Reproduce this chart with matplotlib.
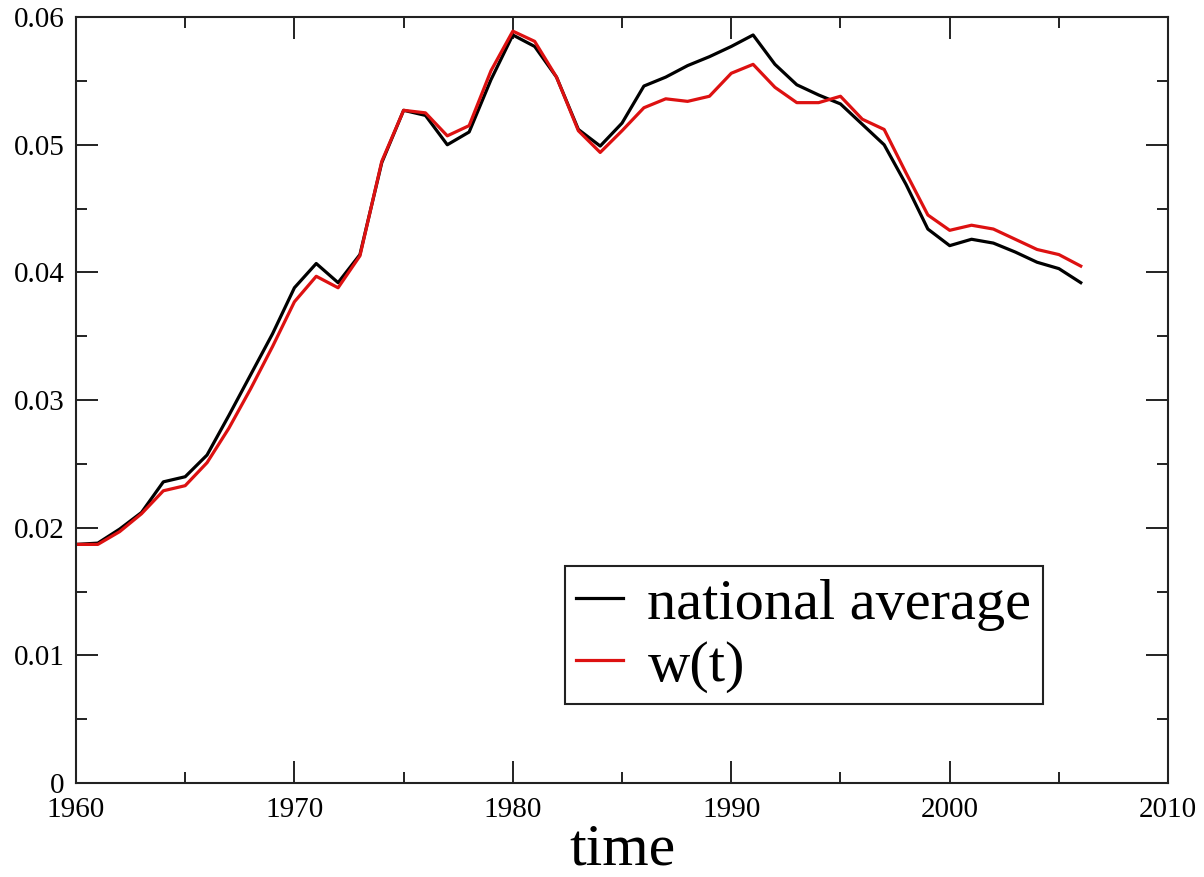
import numpy as np
import matplotlib
matplotlib.use('Agg')
import matplotlib.pyplot as plt
import matplotlib.transforms as mtransforms
from matplotlib.ticker import MultipleLocator, FuncFormatter

# yearly values, 1960-2006
years = list(range(1960, 2007))

national_average = [
    0.0187, 0.0188, 0.0199, 0.0212, 0.0236, 0.0240, 0.0257, 0.0288, 0.0320, 0.0352,
    0.0388, 0.0407, 0.0392, 0.0414, 0.0486, 0.0527, 0.0523, 0.0500, 0.0510, 0.0551,
    0.0586, 0.0577, 0.0553, 0.0512, 0.0499, 0.0517, 0.0546, 0.0553, 0.0562, 0.0569,
    0.0577, 0.0586, 0.0563, 0.0547, 0.0539, 0.0532, 0.0516, 0.0500, 0.0469, 0.0434,
    0.0421, 0.0426, 0.0423, 0.0416, 0.0408, 0.0403, 0.0392,
]

w_t = [
    0.0187, 0.0187, 0.0197, 0.0211, 0.0229, 0.0233, 0.0251, 0.0278, 0.0309, 0.0342,
    0.0377, 0.0397, 0.0388, 0.0413, 0.0487, 0.0527, 0.0525, 0.0507, 0.0515, 0.0558,
    0.0589, 0.0581, 0.0553, 0.0511, 0.0494, 0.0511, 0.0529, 0.0536, 0.0534, 0.0538,
    0.0556, 0.0563, 0.0545, 0.0533, 0.0533, 0.0538, 0.0520, 0.0512, 0.0478, 0.0445,
    0.0433, 0.0437, 0.0434, 0.0426, 0.0418, 0.0414, 0.0405,
]

plt.rcParams['font.family'] = ['Liberation Serif', 'DejaVu Serif']

fig = plt.figure(figsize=(12.04, 8.77), dpi=100)
ax = fig.add_axes([0.0631, 0.107, 0.9071, 0.8735])

ax.plot(years, national_average, color='black', lw=2.3, label='national average')
ax.plot(years, w_t, color='#dd1111', lw=2.3, label='w(t)')

ax.set_xlim(1960, 2010)
ax.set_ylim(0, 0.06)
ax.xaxis.set_major_locator(MultipleLocator(10))
ax.xaxis.set_minor_locator(MultipleLocator(5))
ax.yaxis.set_major_locator(MultipleLocator(0.01))
ax.yaxis.set_minor_locator(MultipleLocator(0.005))
ax.yaxis.set_major_formatter(FuncFormatter(lambda v, p: '0' if abs(v) < 1e-9 else f'{v:.2f}'))
ax.xaxis.set_major_formatter(FuncFormatter(lambda v, p: f'{int(round(v))}'))

ax.tick_params(which='both', direction='in', top=True, right=True, width=1.4, color='#222222')
ax.tick_params(which='major', length=15.8, labelsize=21, pad=8)
ax.tick_params(axis='x', which='major', pad=10)
ax.tick_params(which='minor', length=7.9)
for s in ax.spines.values():
    s.set_linewidth(1.5)
    s.set_color('#222222')

# lift the "0" on the y axis a little so it sits above "1960"
fig.canvas.draw()
zero_lbl = ax.yaxis.get_majorticklabels()[0]
zero_lbl.set_transform(zero_lbl.get_transform() +
                       mtransforms.ScaledTranslation(0, 3 / 72, fig.dpi_scale_trans))

ax.set_xlabel('time', fontsize=43, labelpad=0)

leg = ax.legend(loc='lower right', bbox_to_anchor=(0.8855, 0.103), borderaxespad=0,
                fontsize=42, handlelength=0.8, handletextpad=0.42, labelspacing=0.15,
                borderpad=0.2, fancybox=False, framealpha=1, edgecolor='#222222')
leg.get_frame().set_linewidth(1.5)

fig.savefig('out.png', dpi=100)
